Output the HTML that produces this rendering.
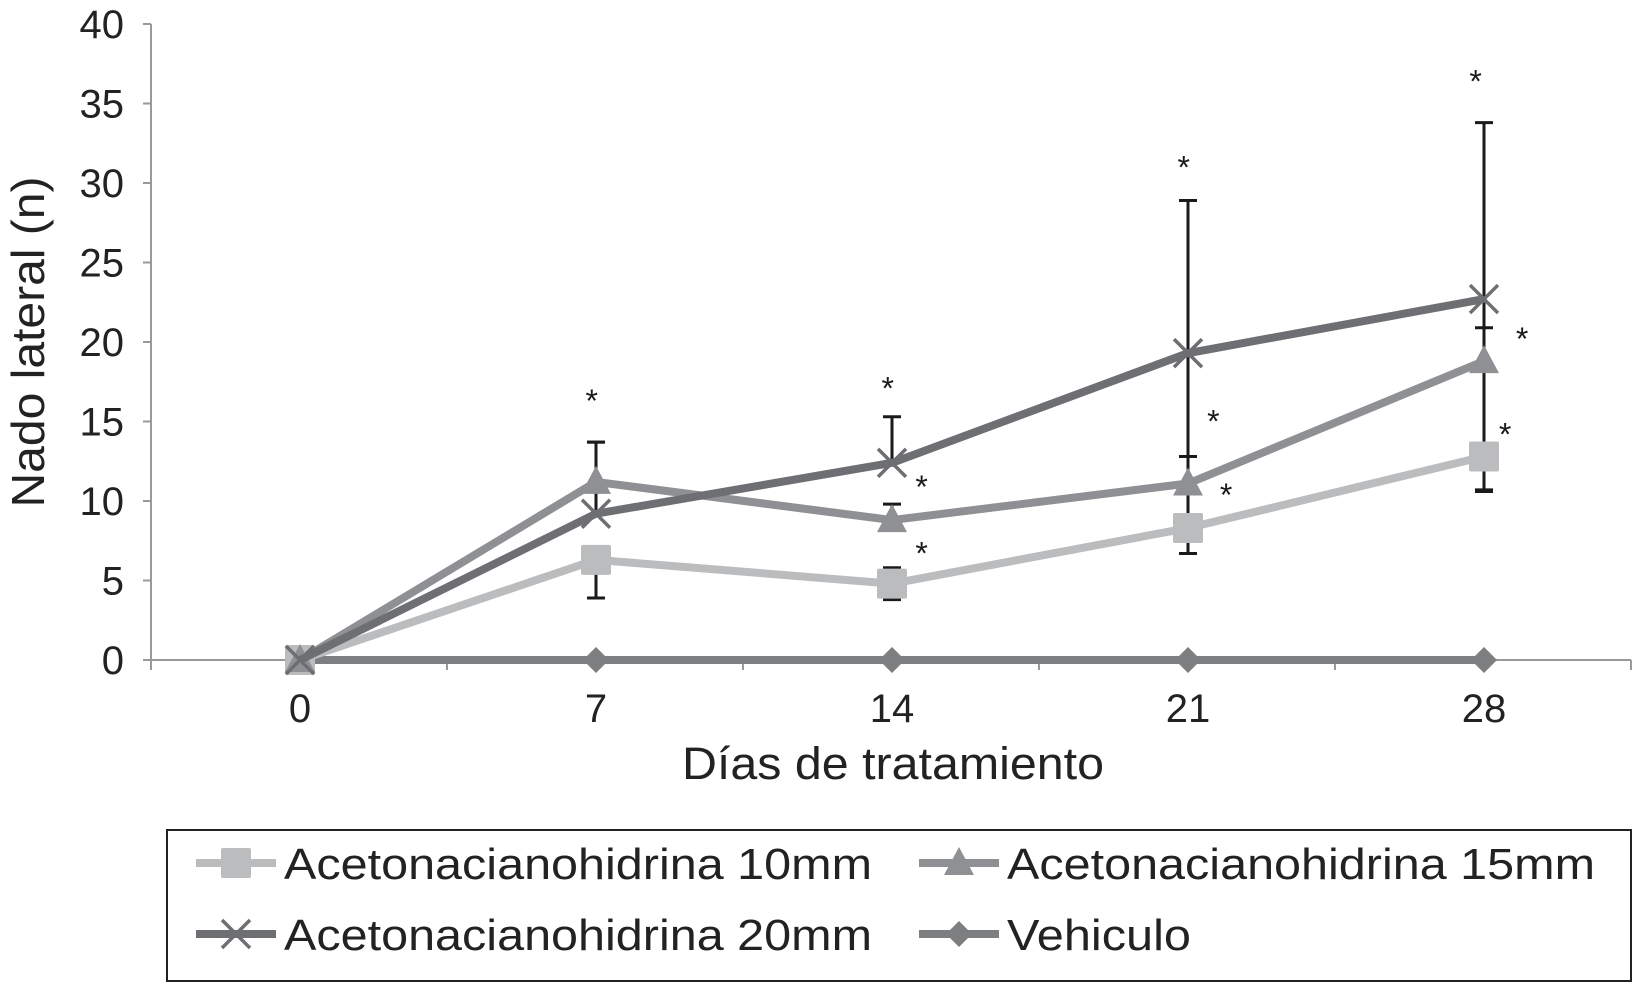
<!DOCTYPE html>
<html><head><meta charset="utf-8"><style>
html,body{margin:0;padding:0;background:#fff;}
svg{display:block;font-family:"Liberation Sans",sans-serif;}
</style></head><body>
<svg id="chart" width="1634" height="984" viewBox="0 0 1634 984" xmlns="http://www.w3.org/2000/svg">
<g id="axes"></g>
<g id="marks"></g>
<text x="893" y="779" font-size="45" text-anchor="middle" fill="#222" textLength="422" lengthAdjust="spacingAndGlyphs">Días de tratamiento</text>
<text x="0" y="0" font-size="46" text-anchor="middle" fill="#222" textLength="331" lengthAdjust="spacingAndGlyphs" transform="translate(44,342) rotate(-90)">Nado lateral (n)</text>
<g>
<rect x="167" y="830" width="1464" height="151" fill="none" stroke="#222" stroke-width="2"/>
<g id="legend"></g>
</g>
</svg>
<script>
const days = [0, 7, 14, 21, 28];
const yTicks = [0, 5, 10, 15, 20, 25, 30, 35, 40];
const s10 = [0, 6.3, 4.8, 8.3, 12.8];
const s15 = [0, 11.2, 8.8, 11.1, 18.8];
const s20 = [0, 9.2, 12.4, 19.3, 22.7];
const veh = [0, 0, 0, 0, 0];
const err10Up = [0, 0, 1.0, 0, 0];
const err10Down = [0, 2.4, 1.0, 1.6, 2.1];
const err15Up = [0, 2.5, 1.0, 1.7, 2.1];
const err15Down = [0, 0, 0, 0, 0];
const err20Up = [0, 4.5, 2.9, 9.6, 11.1];
const err20Down = [0, 0, 0, 12.6, 12.1];
const starDays = [6.9, 13.9, 14.7, 14.7, 20.9, 21.6, 21.9, 27.8, 28.9, 28.5];
const starVals = [16.6, 17.4, 11.2, 7.0, 31.3, 15.3, 10.7, 36.7, 20.5, 14.5];
const names = ["Acetonacianohidrina 10mm","Acetonacianohidrina 15mm","Acetonacianohidrina 20mm","Vehiculo"];

const NS = "http://www.w3.org/2000/svg";
const X0 = 151, X1 = 1631, Y0 = 660, Y1 = 24;
const xs = d => 300 + (d / 7) * 296;
const ys = v => Y0 - (v / 40) * (Y0 - Y1);
function mk(tag, attrs, parent){const e=document.createElementNS(NS,tag);for(const k in attrs)e.setAttribute(k,attrs[k]);parent.appendChild(e);return e;}
const axes=document.getElementById('axes'), marks=document.getElementById('marks'), leg=document.getElementById('legend');

let a=mk('line',{x1:X0,y1:Y1,x2:X0,y2:Y0,stroke:'#999','stroke-width':2},axes);

a=mk('line',{x1:X0,y1:Y0,x2:X1,y2:Y0,stroke:'#999','stroke-width':2},axes);

yTicks.forEach(t=>{
  let l=mk('line',{x1:X0-8,y1:ys(t),x2:X0,y2:ys(t),stroke:'#999','stroke-width':2},axes);
  
  let tx=mk('text',{x:124,y:ys(t)+14,'font-size':40,'text-anchor':'end',fill:'#222'},axes);tx.textContent=t;
  
});
for(let i=0;i<=days.length;i++){
  const x=X0+i*296;
  let l=mk('line',{x1:x,y1:Y0,x2:x,y2:Y0+10,stroke:'#999','stroke-width':2},axes);
  
}
days.forEach(d=>{
  let tx=mk('text',{x:xs(d),y:722,'font-size':40,'text-anchor':'middle',fill:'#222'},axes);tx.textContent=d;
  
});

function marker(type,x,y,col,g){
  let m;
  if(type==='sq') m=mk('rect',{x:x-15,y:y-15,width:30,height:30,rx:2,fill:col},g);
  else if(type==='tri') m=mk('polygon',{points:`${x},${y-16} ${x+15},${y+12} ${x-15},${y+12}`,fill:col},g);
  else if(type==='x'){m=mk('path',{d:`M${x-14},${y-14}L${x+14},${y+14}M${x+14},${y-14}L${x-14},${y+14}`,stroke:col,'stroke-width':3.5},g);}
  else m=mk('polygon',{points:`${x},${y-13} ${x+13},${y} ${x},${y+13} ${x-13},${y}`,fill:col},g);
  return m;
}
function errs(vals,up,down,g){
  vals.forEach((v,i)=>{
    const x=xs(days[i]);
    [[up[i],1],[down[i],-1]].forEach(([e,s])=>{
      if(e>0){
        let l=mk('line',{x1:x,y1:ys(v),x2:x,y2:ys(v+s*e),stroke:'#1a1a1a','stroke-width':3},g);
        
        let c=mk('line',{x1:x-9,y1:ys(v+s*e),x2:x+9,y2:ys(v+s*e),stroke:'#1a1a1a','stroke-width':3},g);
        
      }
    });
  });
}
const series=[
  {v:veh,c:'#7c7e80',m:'dia',n:'vehiculo'},
  {v:s10,c:'#bbbcbe',m:'sq',n:'acetona-10mm',up:err10Up,dn:err10Down},
  {v:s15,c:'#8e9093',m:'tri',n:'acetona-15mm',up:err15Up,dn:err15Down},
  {v:s20,c:'#6d6f72',m:'x',n:'acetona-20mm',up:err20Up,dn:err20Down},
];
const eg=mk('g',{},marks);

series.forEach(s=>{ if(s.up) errs(s.v,s.up,s.dn,eg); });
series.forEach(s=>{
  const g=mk('g',{},marks);
  
  const pts=s.v.map((v,i)=>xs(days[i])+','+ys(v)).join(' ');
  let pl=mk('polyline',{points:pts,fill:'none',stroke:s.c,'stroke-width':8,'stroke-linejoin':'round'},g);
  
  s.v.forEach((v,i)=>{
    const m=marker(s.m,xs(days[i]),ys(v),s.c,g);
    
  });
});
starDays.forEach((d,i)=>{
  let t=mk('text',{x:xs(d),y:ys(starVals[i])+16,'font-size':32,'text-anchor':'middle',fill:'#1a1a1a'},marks);
  t.textContent='*';
  
});
const legItems=[
  {x:196,y:863,c:'#bbbcbe',m:'sq',t:names[0]},
  {x:919,y:863,c:'#8e9093',m:'tri',t:names[1]},
  {x:196,y:934,c:'#6d6f72',m:'x',t:names[2]},
  {x:919,y:934,c:'#7c7e80',m:'dia',t:names[3]},
];
legItems.forEach((it,i)=>{
  const g=mk('g',{},leg);
  
  mk('line',{x1:it.x,y1:it.y,x2:it.x+80,y2:it.y,stroke:it.c,'stroke-width':8},g);
  marker(it.m,it.x+40,it.y,it.c,g);
  const attrs={x:it.x+88,y:it.y+16,'font-size':44,fill:'#222'};
  if(i<3) attrs.textLength=588;
  else attrs.textLength=184;
  attrs.lengthAdjust='spacingAndGlyphs';
  const t=mk('text',attrs,g);t.textContent=it.t;
});
</script>
</body></html>
